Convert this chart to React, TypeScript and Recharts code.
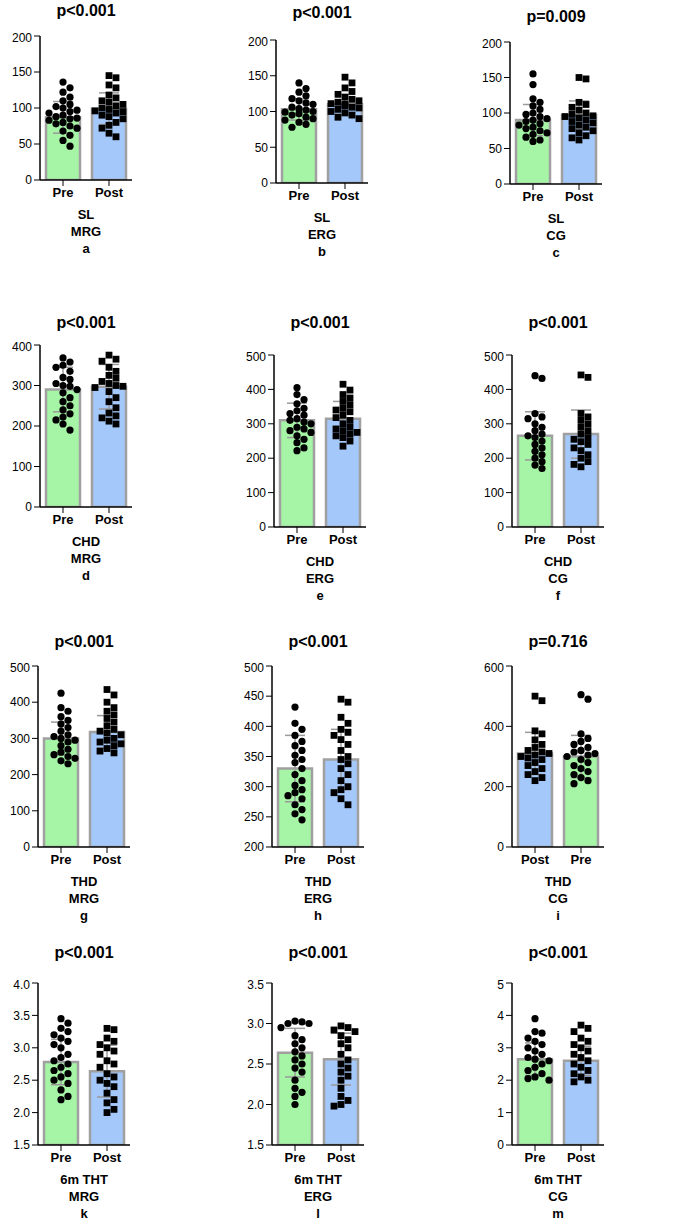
import React from "react";
import { ComposedChart, Bar, Cell, ErrorBar, Scatter, XAxis, YAxis } from "recharts";

const GREEN = "#a6f5a6";
const BLUE = "#a4c8fa";
const FONT = "'Liberation Sans', Arial, sans-serif";

// dot values per group
const aPre = [136, 128, 122, 115, 110, 105, 102, 100, 97, 95, 93, 90, 88, 86, 85, 83, 80, 78, 75, 72, 68, 62, 55, 47];
const aPost = [145, 142, 132, 128, 118, 114, 110, 108, 105, 103, 100, 98, 96, 95, 93, 90, 88, 85, 80, 76, 72, 65, 60];
const bPre = [140, 132, 127, 122, 118, 115, 112, 110, 106, 104, 102, 100, 99, 97, 95, 92, 90, 88, 85, 82, 78];
const bPost = [148, 140, 133, 128, 124, 120, 117, 115, 113, 111, 110, 108, 106, 105, 103, 100, 98, 95, 92, 90];
const cPre = [155, 140, 120, 115, 110, 105, 100, 98, 95, 92, 90, 88, 85, 83, 80, 78, 75, 72, 70, 66, 62, 60];
const cPost = [150, 148, 115, 112, 108, 104, 100, 98, 96, 95, 93, 90, 88, 86, 83, 80, 78, 75, 72, 68, 65, 62];
const dPre = [368, 358, 350, 345, 335, 320, 315, 305, 300, 298, 290, 282, 270, 260, 250, 240, 230, 222, 215, 205, 190];
const dPost = [375, 365, 360, 345, 335, 325, 318, 310, 305, 300, 298, 295, 285, 270, 260, 245, 232, 225, 220, 212, 205];
const ePre = [405, 385, 370, 358, 345, 338, 330, 325, 315, 310, 305, 300, 290, 285, 280, 275, 265, 255, 245, 230, 222];
const ePost = [415, 398, 385, 375, 365, 355, 345, 340, 335, 325, 318, 310, 300, 290, 285, 280, 275, 270, 265, 260, 250, 235];
const fPre = [440, 432, 330, 320, 315, 300, 290, 280, 270, 265, 260, 250, 240, 230, 220, 210, 200, 190, 180, 170];
const fPost = [442, 435, 330, 320, 310, 300, 290, 280, 270, 260, 255, 248, 240, 230, 222, 210, 200, 190, 182, 175];
const gPre = [425, 385, 375, 360, 350, 340, 330, 320, 310, 305, 300, 295, 290, 280, 270, 262, 255, 250, 245, 238, 230];
const gPost = [435, 420, 400, 385, 375, 365, 355, 345, 335, 325, 320, 315, 310, 300, 295, 290, 285, 280, 272, 265, 260];
const hPre = [432, 405, 395, 385, 375, 368, 360, 352, 345, 340, 330, 320, 310, 302, 295, 290, 285, 280, 270, 262, 255, 245];
const hPost = [445, 440, 415, 405, 395, 390, 385, 378, 370, 360, 350, 345, 338, 330, 320, 310, 300, 295, 290, 280, 270];
const iPost = [500, 485, 385, 375, 355, 340, 330, 320, 315, 310, 305, 300, 295, 290, 280, 270, 260, 250, 240, 230, 220];
const iPre = [505, 490, 375, 360, 350, 340, 330, 320, 315, 310, 305, 300, 290, 280, 270, 260, 250, 240, 230, 220, 210];
const kPre = [3.45, 3.38, 3.3, 3.25, 3.2, 3.15, 3.1, 3.05, 3.0, 2.9, 2.85, 2.8, 2.75, 2.7, 2.65, 2.6, 2.55, 2.5, 2.45, 2.35, 2.25, 2.2];
const kPost = [3.3, 3.28, 3.15, 3.1, 3.05, 3.0, 2.95, 2.9, 2.8, 2.75, 2.7, 2.6, 2.55, 2.5, 2.45, 2.4, 2.3, 2.2, 2.15, 2.05, 2.0];
const lPre = [3.03, 3.02, 3.0, 3.0, 2.95, 2.85, 2.8, 2.75, 2.7, 2.65, 2.6, 2.55, 2.5, 2.45, 2.4, 2.3, 2.2, 2.15, 2.1, 2.0];
const lPost = [2.97, 2.95, 2.92, 2.9, 2.85, 2.8, 2.75, 2.7, 2.62, 2.55, 2.5, 2.45, 2.4, 2.35, 2.3, 2.2, 2.1, 2.05, 2.0, 1.98];
const mPre = [3.9, 3.5, 3.45, 3.3, 3.2, 3.1, 3.0, 2.9, 2.8, 2.7, 2.65, 2.6, 2.5, 2.4, 2.3, 2.2, 2.1, 2.05, 2.0];
const mPost = [3.7, 3.6, 3.5, 3.3, 3.2, 3.1, 3.0, 2.9, 2.8, 2.7, 2.6, 2.5, 2.4, 2.3, 2.2, 2.1, 2.0, 1.95];

type Panel = {
  title: string; lines: string[]; cats: string[]; colors: string[]; shapes: ("c" | "s")[];
  vals: number[][]; means: number[]; sds: number[]; ticks: number[];
  ax: number; top: number; bot: number; titleY: number;
};

const P = (o: Panel) => o;
const pp = { cats: ["Pre", "Post"], colors: [GREEN, BLUE], shapes: ["c", "s"] as ("c" | "s")[] };
const panels: Panel[] = [
  P({ ...pp, title: "p<0.001", lines: ["SL", "MRG", "a"], vals: [aPre, aPost], means: [87, 99], sds: [22, 22], ticks: [0, 50, 100, 150, 200], ax: 40, top: 36, bot: 180, titleY: 2 }),
  P({ ...pp, title: "p<0.001", lines: ["SL", "ERG", "b"], vals: [bPre, bPost], means: [103, 110], sds: [15, 14], ticks: [0, 50, 100, 150, 200], ax: 276, top: 40, bot: 183, titleY: 4 }),
  P({ ...pp, title: "p=0.009", lines: ["SL", "CG", "c"], vals: [cPre, cPost], means: [90, 97], sds: [22, 20], ticks: [0, 50, 100, 150, 200], ax: 510, top: 42, bot: 184, titleY: 8 }),
  P({ ...pp, title: "p<0.001", lines: ["CHD", "MRG", "d"], vals: [dPre, dPost], means: [290, 297], sds: [55, 55], ticks: [0, 100, 200, 300, 400], ax: 40, top: 345, bot: 507, titleY: 314 }),
  P({ ...pp, title: "p<0.001", lines: ["CHD", "ERG", "e"], vals: [ePre, ePost], means: [310, 315], sds: [50, 50], ticks: [0, 100, 200, 300, 400, 500], ax: 274, top: 355, bot: 527, titleY: 314 }),
  P({ ...pp, title: "p<0.001", lines: ["CHD", "CG", "f"], vals: [fPre, fPost], means: [265, 270], sds: [70, 70], ticks: [0, 100, 200, 300, 400, 500], ax: 512, top: 355, bot: 527, titleY: 314 }),
  P({ ...pp, title: "p<0.001", lines: ["THD", "MRG", "g"], vals: [gPre, gPost], means: [300, 318], sds: [45, 45], ticks: [0, 100, 200, 300, 400, 500], ax: 38, top: 666, bot: 847, titleY: 633 }),
  P({ ...pp, title: "p<0.001", lines: ["THD", "ERG", "h"], vals: [hPre, hPost], means: [330, 345], sds: [55, 50], ticks: [200, 250, 300, 350, 400, 450, 500], ax: 272, top: 666, bot: 847, titleY: 633 }),
  P({ title: "p=0.716", lines: ["THD", "CG", "i"], cats: ["Post", "Pre"], colors: [BLUE, GREEN], shapes: ["s", "c"], vals: [iPost, iPre], means: [310, 300], sds: [70, 70], ticks: [0, 200, 400, 600], ax: 512, top: 666, bot: 847, titleY: 633 }),
  P({ ...pp, title: "p<0.001", lines: ["6m THT", "MRG", "k"], vals: [kPre, kPost], means: [2.78, 2.64], sds: [0.35, 0.4], ticks: [1.5, 2.0, 2.5, 3.0, 3.5, 4.0], ax: 38, top: 983, bot: 1145, titleY: 944 }),
  P({ ...pp, title: "p<0.001", lines: ["6m THT", "ERG", "l"], vals: [lPre, lPost], means: [2.64, 2.56], sds: [0.3, 0.32], ticks: [1.5, 2.0, 2.5, 3.0, 3.5], ax: 272, top: 983, bot: 1145, titleY: 944 }),
  P({ ...pp, title: "p<0.001", lines: ["6m THT", "CG", "m"], vals: [mPre, mPost], means: [2.65, 2.6], sds: [0.5, 0.45], ticks: [0, 1, 2, 3, 4, 5], ax: 512, top: 983, bot: 1145, titleY: 944 }),
];

const CAT_W = 46;
const D = 7;

// simple beeswarm: x offset (in category units) for each value
function swarm(vals: number[], pxPerUnit: number) {
  const placed: { x: number; y: number }[] = [];
  return vals.map((v) => {
    const y = v * pxPerUnit;
    let off = 0;
    for (let k = 0; k < 12; k++) {
      const cand = k === 0 ? 0 : (k % 2 ? 1 : -1) * Math.ceil(k / 2) * D;
      if (Math.abs(cand) > 17) break;
      if (placed.every((p) => Math.hypot(p.x - cand, p.y - y) >= D - 0.5)) { off = cand; break; }
    }
    placed.push({ x: off, y });
    return off / CAT_W;
  });
}

const Dot = (shape: "c" | "s") => (props: any) => {
  const { cx, cy } = props;
  return shape === "c"
    ? <circle cx={cx} cy={cy} r={3.6} fill="#000" />
    : <rect x={cx - 3.4} y={cy - 3.4} width={6.8} height={6.8} fill="#000" />;
};

function PanelChart({ p }: { p: Panel }) {
  const min = p.ticks[0];
  const max = p.ticks[p.ticks.length - 1];
  const plotH = p.bot - p.top;
  const ppu = plotH / (max - min);
  const bars = p.cats.map((c, i) => ({ cat: c, mean: p.means[i], err: p.sds[i] }));
  const xH = 24;
  const left = p.ax - 36;
  return (
    <>
      <div style={{ position: "absolute", left: p.ax - 10, top: p.titleY, width: 112, textAlign: "center", fontFamily: FONT, fontWeight: 700, fontSize: 16 }}>
        {p.title}
      </div>
      <div style={{ position: "absolute", left, top: p.top - 6 }}>
        <ComposedChart width={36 + 2 * CAT_W + 6} height={plotH + 6 + xH} data={bars} margin={{ top: 6, right: 6, bottom: 0, left: 0 }}>
          <XAxis xAxisId="c" dataKey="cat" tick={{ fontSize: 13, fontWeight: 700, fill: "#000", fontFamily: FONT }} axisLine={{ stroke: "#000", strokeWidth: 1.5 }} tickLine={{ stroke: "#000" }} height={xH} interval={0} />
          <XAxis xAxisId="n" dataKey="x" type="number" domain={[0, 2]} hide />
          <YAxis type="number" domain={[min, max]} ticks={p.ticks} width={36} allowDataOverflow tick={{ fontSize: 12, fill: "#000", fontFamily: FONT }} axisLine={{ stroke: "#000", strokeWidth: 1.5 }} tickLine={{ stroke: "#000" }} tickFormatter={(v: number) => (max < 10 && p.ticks[1] - p.ticks[0] < 1 ? v.toFixed(1) : String(v))} />
          <Bar xAxisId="c" dataKey="mean" barSize={34} stroke="#a0a0a0" strokeWidth={2.5} isAnimationActive={false}>
            {bars.map((b, i) => <Cell key={b.cat} fill={p.colors[i]} />)}
            <ErrorBar dataKey="err" stroke="#9a9a9a" strokeWidth={1.5} width={10} />
          </Bar>
          {p.vals.map((vals, gi) => {
            const offs = swarm(vals, ppu);
            const data = vals.map((v, j) => ({ x: gi + 0.5 + offs[j], y: v }));
            return <Scatter key={gi} xAxisId="n" data={data} dataKey="y" shape={Dot(p.shapes[gi])} isAnimationActive={false} />;
          })}
        </ComposedChart>
      </div>
      <div style={{ position: "absolute", left: p.ax, top: p.bot + 26, width: 92, textAlign: "center", fontFamily: FONT, fontWeight: 700, fontSize: 13, lineHeight: "17px" }}>
        {p.lines.map((l) => <div key={l}>{l}</div>)}
      </div>
    </>
  );
}

export default function App() {
  return (
    <div style={{ position: "absolute", left: 0, top: 0, width: 691, height: 1224, background: "#fff" }}>
      {panels.map((p, i) => <PanelChart key={i} p={p} />)}
    </div>
  );
}
